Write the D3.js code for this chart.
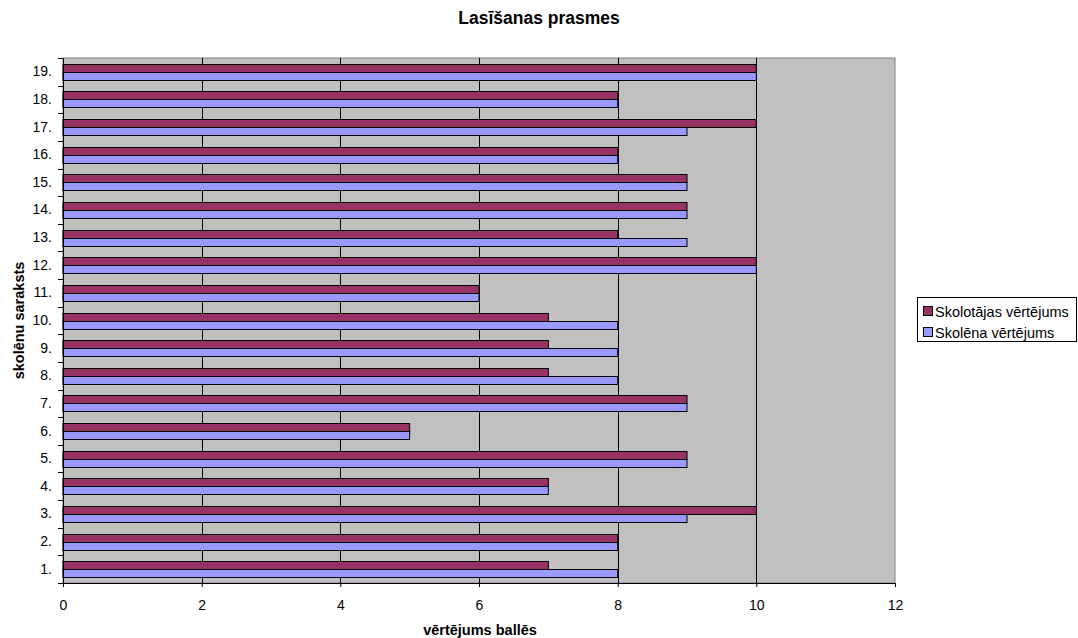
<!DOCTYPE html>
<html><head><meta charset="utf-8">
<script src="https://cdn.jsdelivr.net/npm/d3@7"></script>
<style>body{margin:0;background:#fff;}svg{display:block;font-family:"Liberation Sans",Arial,sans-serif;}</style>
</head><body><svg id="c" width="1078" height="638"></svg>
<script>
const categories = ["1.","2.","3.","4.","5.","6.","7.","8.","9.","10.","11.","12.","13.","14.","15.","16.","17.","18.","19."];
const teacher = [7,8,10,7,9,5,9,7,7,7,6,10,8,9,9,8,10,8,10];
const student = [8,8,9,7,9,5,9,8,8,8,6,10,9,9,9,8,9,8,10];
const seriesNames = ["Skolotājas vērtējums","Skolēna vērtējums"];
const xTicks = [0,2,4,6,8,10,12];
const colors = ["#993366","#9999FF"];

const svg = d3.select("#c");
const L=63, R=895, T=58, B=583;
const x = d3.scaleLinear().domain([0,12]).range([L,R]);
const y = d3.scaleBand().domain(categories).range([B,T]);
const bw = 8;

svg.append("rect").attr("x",L).attr("y",T).attr("width",R-L).attr("height",B-T)
  .attr("fill","#C0C0C0").attr("stroke","#808080").attr("stroke-width",1);

// gridlines
svg.append("g").selectAll("line").data(xTicks.filter(d=>d>0&&d<12)).join("line")
  .attr("x1",d=>Math.round(x(d))+0.5).attr("x2",d=>Math.round(x(d))+0.5)
  .attr("y1",T).attr("y2",B).attr("stroke","#000").attr("stroke-width",1);

const data = categories.map((c,i)=>({c, v:[teacher[i],student[i]]}));
const g = svg.append("g");
data.forEach(d=>{
  const cy = y(d.c)+y.bandwidth()/2;
  d.v.forEach((v,j)=>{
    g.append("rect")
      .attr("x",x(0)).attr("y",Math.round(cy-bw+j*bw)+0.5)
      .attr("width",x(v)-x(0)).attr("height",bw)
      .attr("fill",colors[j]).attr("stroke","#000").attr("stroke-width",1);
  });
});

// axes
const xa = svg.append("g").attr("transform",`translate(0,${B})`)
  .call(d3.axisBottom(x).tickValues(xTicks).tickSize(4).tickPadding(13).tickFormat(d3.format("d")));
const ya = svg.append("g").attr("transform",`translate(${L},0)`)
  .call(d3.axisLeft(y).tickSize(0).tickPadding(11));
// y ticks at band boundaries
svg.append("g").selectAll("line").data(d3.range(categories.length+1)).join("line")
  .attr("x1",L-5).attr("x2",L).attr("y1",i=>Math.round(B-i*y.step())+0.5).attr("y2",i=>Math.round(B-i*y.step())+0.5)
  .attr("stroke","#000");
[xa,ya].forEach(a=>{
  a.attr("font-size",14);
  a.selectAll("text").attr("font-size",14).attr("fill","#000").attr("font-family","Liberation Sans, Arial, sans-serif");
  a.select(".domain").attr("stroke","#000");
  a.selectAll(".tick line").attr("stroke","#000");
});

svg.append("text").attr("x",539).attr("y",24).attr("text-anchor","middle")
  .attr("font-size",17.5).attr("font-weight","bold").text("Lasīšanas prasmes");
svg.append("text").attr("x",480).attr("y",635).attr("text-anchor","middle")
  .attr("font-size",14.5).attr("font-weight","bold").text("vērtējums ballēs");
svg.append("text").attr("transform",`translate(24,${(T+B)/2}) rotate(-90)`).attr("text-anchor","middle")
  .attr("font-size",14.5).attr("font-weight","bold").text("skolēnu saraksts");

// legend
const lg = svg.append("g");
lg.append("rect").attr("x",917.5).attr("y",297.5).attr("width",159).attr("height",44)
  .attr("fill","#fff").attr("stroke","#000");
seriesNames.forEach((n,i)=>{
  const yy = 317 + i*21;
  lg.append("rect").attr("x",923.5).attr("y",yy-10.5).attr("width",9).attr("height",9)
    .attr("fill",colors[i]).attr("stroke","#000");
  lg.append("text").attr("x",935).attr("y",yy).attr("font-size",14.5).text(n);
});
</script></body></html>
